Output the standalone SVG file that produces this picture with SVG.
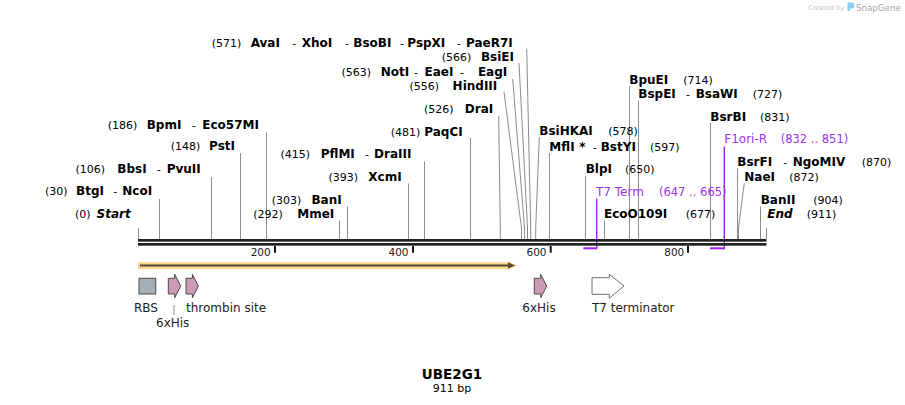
<svg xmlns="http://www.w3.org/2000/svg" width="905" height="405" viewBox="0 0 905 405">
<style>
text{font-family:"DejaVu Sans",Verdana,sans-serif;fill:#000}
.n{font-size:11px}
.b{font-size:12px;font-weight:bold}
.h{font-size:11px;font-weight:normal}
.i{font-style:italic}
.p{fill:#a032f0}
.f{font-size:12px;fill:#222}
.t{font-size:10.5px;fill:#222}
.ln{stroke:#8c8c8c;stroke-width:1;fill:none}
.pr{stroke:#a020f0;fill:none}
.tk{fill:#111}
.his{fill:#cb9bb5;stroke:#4a4a4a;stroke-width:1}
</style>
<rect width="905" height="405" fill="#fff"/>

<g id="watermark">
<text x="808.3" y="10" style="font-size:6.5px;fill:#c4c4c4">Created by</text>
<path d="M847.5,2.5 H852 Q854.3,2.5 854.3,5 V6.5 Q854.3,8.6 852,8.6 H850.2 V11 H847.5 Z" fill="#8ccbef"/>
<text x="856" y="10.5" style="font-size:8.7px;fill:#a6a6a6">SnapGene</text>
</g>

<g id="connectors" class="ln">
<path d="M138.5,228 V239"/>
<path d="M159.5,199 V239"/>
<path d="M211.5,177 V239"/>
<path d="M240.5,153 V239"/>
<path d="M266.5,132.5 V239"/>
<path d="M339.5,220.5 V239"/>
<path d="M347.5,206.5 V239"/>
<path d="M408.5,183.5 V239"/>
<path d="M424.5,161.5 V239"/>
<path d="M470.5,138 V239"/>
<path d="M498.7,116 L500.3,228 V239"/>
<path d="M504,92 L521.5,228 V239"/>
<path d="M512.7,79 L524.5,228 V239"/>
<path d="M519,63 L527.5,228 V239"/>
<path d="M526.7,48.5 L530.7,228 V239"/>
<path d="M539.3,137 L535.7,228 V239"/>
<path d="M549.5,153 V239"/>
<path d="M585.5,176 V239"/>
<path d="M604.5,220.5 V239"/>
<path d="M629.5,86 V239"/>
<path d="M638.5,100.5 V239"/>
<path d="M710.5,123 V239"/>
<path d="M737.5,168 V239"/>
<path d="M744.3,183 L738.5,228 V239"/>
<path d="M760.5,206.5 V239"/>
<path d="M766.5,228 V239"/>
</g>

<g id="primers">
<path class="pr" d="M596.7,198.5 V248.3" stroke-width="1.4"/>
<path class="pr" d="M583.3,248.3 H597.4" stroke-width="2"/>
<path class="pr" d="M724.3,146.5 V248.3" stroke-width="1.4"/>
<path class="pr" d="M710,248.3 H725" stroke-width="2"/>
</g>

<g id="backbone">
<rect x="138" y="239" width="628.5" height="2.7" fill="#222"/>
<rect x="138" y="243" width="628.5" height="2.7" fill="#222"/>
<rect class="tk" x="274" y="246" width="2" height="6.7"/>
<rect class="tk" x="412" y="246" width="2" height="6.7"/>
<rect class="tk" x="549.7" y="246" width="2" height="6.7"/>
<rect class="tk" x="687" y="246" width="2" height="6.7"/>
<text class="t" x="270.7" y="255.7" text-anchor="end">200</text>
<text class="t" x="408.5" y="255.7" text-anchor="end">400</text>
<text class="t" x="546.5" y="255.7" text-anchor="end">600</text>
<text class="t" x="684.3" y="255.7" text-anchor="end">800</text>
</g>

<g id="orf">
<path d="M138,265.6 H510" stroke="#fbd38b" stroke-width="6.6"/>
<polygon points="507,261 517,265.6 507,270.2" fill="#fbd38b"/>
<path d="M140,265.5 H509" stroke="#574a3c" stroke-width="2.2"/>
<polygon points="508,262.2 515,265.5 508,268.8" fill="#574a3c"/>
</g>

<g id="f-RBS">
<rect x="139" y="278.3" width="16.7" height="15.7" fill="#a8aeb6" stroke="#4a4a4a" stroke-width="1"/>
<text class="f" x="134" y="311.7">RBS</text>
</g>
<g id="f-6xHis-1">
<polygon class="his" points="168.3,278.3 174.7,278.3 174.7,274.3 180.7,286.1 174.7,297.8 174.7,294 168.3,294"/>
<path class="ln" d="M174,305 V315"/>
<text class="f" x="156" y="327.3">6xHis</text>
</g>
<g id="f-thrombin">
<polygon class="his" points="186,278.3 192.4,278.3 192.4,274.3 198.4,286.1 192.4,297.8 192.4,294 186,294"/>
<text class="f" x="186" y="311.7">thrombin site</text>
</g>
<g id="f-6xHis-2">
<polygon class="his" points="534.3,278.3 540.7,278.3 540.7,274.3 546.7,286.1 540.7,297.8 540.7,294 534.3,294"/>
<text class="f" x="522.3" y="311.7">6xHis</text>
</g>
<g id="f-T7term">
<polygon points="592,277.7 609.3,277.7 609.3,274.3 624,286 609.3,298.3 609.3,294.3 592,294.3" fill="#fff" stroke="#6e6e6e" stroke-width="1"/>
<text class="f" x="592" y="311.7">T7 terminator</text>
</g>

<g id="e571">
<text class="n" x="241.3" y="46.7" text-anchor="end">(571)</text>
<text class="b" y="46.7"><tspan x="250.7">AvaI</tspan><tspan class="h" x="292.3">-</tspan><tspan x="301.7">XhoI</tspan><tspan class="h" x="345">-</tspan><tspan x="353.3">BsoBI</tspan><tspan class="h" x="400">-</tspan><tspan x="407.3">PspXI</tspan><tspan class="h" x="456.7">-</tspan><tspan x="466">PaeR7I</tspan></text>
</g>
<g id="e566">
<text class="n" x="471.3" y="60.7" text-anchor="end">(566)</text>
<text class="b" x="514" y="60.7" text-anchor="end">BsiEI</text>
</g>
<g id="e563">
<text class="n" x="371" y="75.7" text-anchor="end">(563)</text>
<text class="b" y="75.7"><tspan x="380.7">NotI</tspan><tspan class="h" x="414">-</tspan><tspan x="424.5">EaeI</tspan><tspan class="h" x="460">-</tspan><tspan x="477.9">EagI</tspan></text>
</g>
<g id="e556">
<text class="n" x="439" y="90" text-anchor="end">(556)</text>
<text class="b" x="497.3" y="90" text-anchor="end">HindIII</text>
</g>
<g id="e526">
<text class="n" x="453.6" y="113.3" text-anchor="end">(526)</text>
<text class="b" x="493.3" y="113.3" text-anchor="end">DraI</text>
</g>
<g id="e481">
<text class="n" x="420.3" y="136" text-anchor="end">(481)</text>
<text class="b" x="462.7" y="136" text-anchor="end">PaqCI</text>
</g>
<g id="e186">
<text class="n" x="137.3" y="129" text-anchor="end">(186)</text>
<text class="b" y="129"><tspan x="146.7">BpmI</tspan><tspan class="h" x="191.7">-</tspan><tspan x="202.3">Eco57MI</tspan></text>
</g>
<g id="e148">
<text class="n" x="200.3" y="150" text-anchor="end">(148)</text>
<text class="b" x="235" y="150" text-anchor="end">PstI</text>
</g>
<g id="e415">
<text class="n" x="310" y="158.3" text-anchor="end">(415)</text>
<text class="b" y="158.3"><tspan x="320.7">PflMI</tspan><tspan class="h" x="365">-</tspan><tspan x="374">DraIII</tspan></text>
</g>
<g id="e106">
<text class="n" x="105" y="173.3" text-anchor="end">(106)</text>
<text class="b" y="173.3"><tspan x="117.3">BbsI</tspan><tspan class="h" x="156.7">-</tspan><tspan x="166.7">PvuII</tspan></text>
</g>
<g id="e393">
<text class="n" x="358" y="181" text-anchor="end">(393)</text>
<text class="b" x="401.7" y="181" text-anchor="end">XcmI</text>
</g>
<g id="e30">
<text class="n" x="67.5" y="195" text-anchor="end">(30)</text>
<text class="b" y="195"><tspan x="76">BtgI</tspan><tspan class="h" x="113.3">-</tspan><tspan x="122.3">NcoI</tspan></text>
</g>
<g id="e303">
<text class="n" x="301.3" y="204" text-anchor="end">(303)</text>
<text class="b" x="341.7" y="204" text-anchor="end">BanI</text>
</g>
<g id="e292">
<text class="n" x="282.9" y="218.3" text-anchor="end">(292)</text>
<text class="b" x="334.3" y="218.3" text-anchor="end">MmeI</text>
</g>
<g id="e0">
<text class="n" x="90.6" y="218.3" text-anchor="end">(0)</text>
<text class="b i" x="130.7" y="218.3" text-anchor="end">Start</text>
</g>

<g id="e578">
<text class="b" x="539.3" y="135">BsiHKAI</text>
<text class="n" x="608.3" y="135">(578)</text>
</g>
<g id="e597">
<text class="b" y="150.7"><tspan x="549.3">MflI</tspan><tspan x="579.3">*</tspan><tspan class="h" x="592.7">-</tspan><tspan x="600.7">BstYI</tspan></text>
<text class="n" x="650" y="150.7">(597)</text>
</g>
<g id="e714">
<text class="b" x="629.3" y="84">BpuEI</text>
<text class="n" x="683.3" y="84">(714)</text>
</g>
<g id="e727">
<text class="b" y="98.3"><tspan x="638.3">BspEI</tspan><tspan class="h" x="686">-</tspan><tspan x="695.7">BsaWI</tspan></text>
<text class="n" x="752.7" y="98.3">(727)</text>
</g>
<g id="e831">
<text class="b" x="710.3" y="120.7">BsrBI</text>
<text class="n" x="760" y="120.7">(831)</text>
</g>
<g id="p-F1ori-R">
<text class="p" x="724.3" y="143.3" style="font-size:12px">F1ori-R</text>
<text class="p" x="780.7" y="143.3" style="font-size:11.5px">(832 .. 851)</text>
</g>
<g id="e870">
<text class="b" y="165.7"><tspan x="737.3">BsrFI</tspan><tspan class="h" x="783.3">-</tspan><tspan x="792.7">NgoMIV</tspan></text>
<text class="n" x="861.7" y="165.7">(870)</text>
</g>
<g id="e650">
<text class="b" x="585.7" y="173.3">BlpI</text>
<text class="n" x="625" y="173.3">(650)</text>
</g>
<g id="e872">
<text class="b" x="744.3" y="180.7">NaeI</text>
<text class="n" x="789.3" y="180.7">(872)</text>
</g>
<g id="p-T7Term">
<text class="p" x="596" y="195.7" style="font-size:12px">T7 Term</text>
<text class="p" x="659" y="195.7" style="font-size:11.5px">(647 .. 665)</text>
</g>
<g id="e904">
<text class="b" x="760.7" y="204.3">BanII</text>
<text class="n" x="813.3" y="204.3">(904)</text>
</g>
<g id="e677">
<text class="b" x="604" y="218.3">EcoO109I</text>
<text class="n" x="685.7" y="218.3">(677)</text>
</g>
<g id="e911">
<text class="b i" x="767.3" y="218.3">End</text>
<text class="n" x="806.7" y="218.3">(911)</text>
</g>

<g id="title">
<text x="452" y="379.3" text-anchor="middle" style="font-size:13.5px;font-weight:bold">UBE2G1</text>
<text x="452" y="391.7" text-anchor="middle" style="font-size:11px">911 bp</text>
</g>
</svg>
